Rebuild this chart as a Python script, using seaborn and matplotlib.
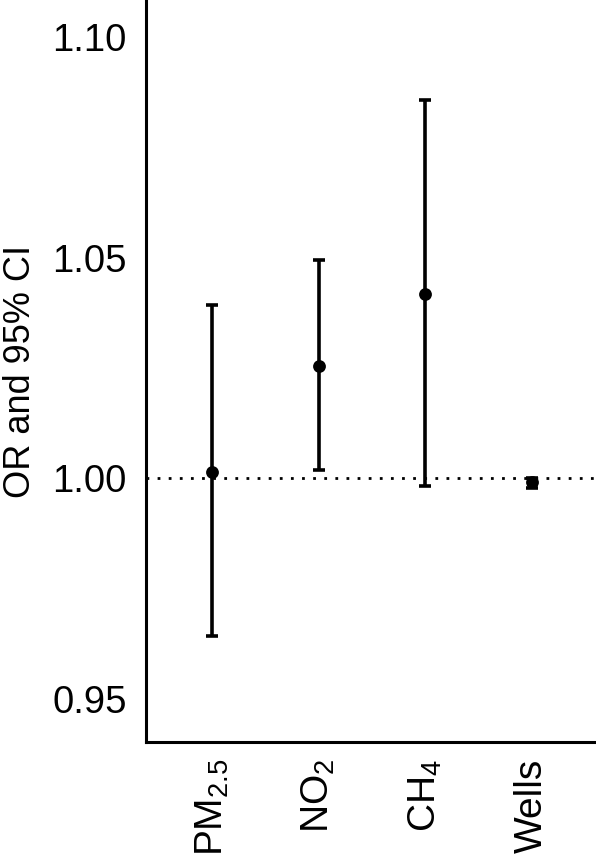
import matplotlib
matplotlib.use("Agg")
import matplotlib.pyplot as plt
import seaborn as sns
import pandas as pd
import numpy as np

# Data
categories = ["PM2.5", "NO2", "CH4", "Wells"]
tick_labels = ["PM$_{2.5}$", "NO$_2$", "CH$_4$", "Wells"]
or_values = [1.0014, 1.0254, 1.0417, 0.9991]
ci_lower = [0.9641, 1.0018, 0.9983, 0.9978]
ci_upper = [1.0392, 1.0494, 1.0857, 1.0001]
y_ticks = [0.95, 1.00, 1.05, 1.10]
y_tick_labels = ["0.95", "1.00", "1.05", "1.10"]

sns.set_theme(style="white")
plt.rcParams["font.family"] = ["Liberation Sans", "DejaVu Sans"]
plt.rcParams["mathtext.fontset"] = "custom"
plt.rcParams["mathtext.rm"] = "Liberation Sans"
plt.rcParams["mathtext.it"] = "Liberation Sans:italic"
plt.rcParams["mathtext.bf"] = "Liberation Sans:bold"
plt.rcParams["text.color"] = "black"
plt.rcParams["axes.labelcolor"] = "black"
plt.rcParams["xtick.color"] = "black"
plt.rcParams["ytick.color"] = "black"

df = pd.DataFrame({"exposure": categories, "OR": or_values,
                   "lo": ci_lower, "hi": ci_upper})

fig = plt.figure(figsize=(5.96, 8.65), dpi=100)
ax = fig.add_axes([0.245, 0.142, 0.755, 0.858])

ax.axhline(1.0, color="black", linestyle=(0, (1, 3)), linewidth=2, zorder=1)

yerr = np.array([df["OR"] - df["lo"], df["hi"] - df["OR"]])
ax.errorbar(df["exposure"], df["OR"], yerr=yerr, fmt="none", ecolor="black",
            elinewidth=2.6, capsize=4, capthick=2.6, zorder=2)
sns.scatterplot(data=df, x="exposure", y="OR", ax=ax, color="black",
                s=85, edgecolor="black", linewidth=0, zorder=3)

ax.set_xlim(-0.62, 3.6)
ax.set_ylim(0.9401, 1.1084)
ax.set_yticks(y_ticks)
ax.set_yticklabels(y_tick_labels, fontsize=27.5, color="black")
ax.set_xticks(range(len(categories)))
ax.set_xticklabels(tick_labels, fontsize=28, rotation=90, color="black")
ax.tick_params(axis="y", length=0, pad=14)
ax.tick_params(axis="x", length=0, pad=12)
ax.set_xlabel("")
ax.set_ylabel("OR and 95% CI", fontsize=26, labelpad=10, color="black")

for side in ["top", "right"]:
    ax.spines[side].set_visible(False)
for side in ["left", "bottom"]:
    ax.spines[side].set_color("black")
    ax.spines[side].set_linewidth(2.2)

fig.savefig("out.png", dpi=100)
